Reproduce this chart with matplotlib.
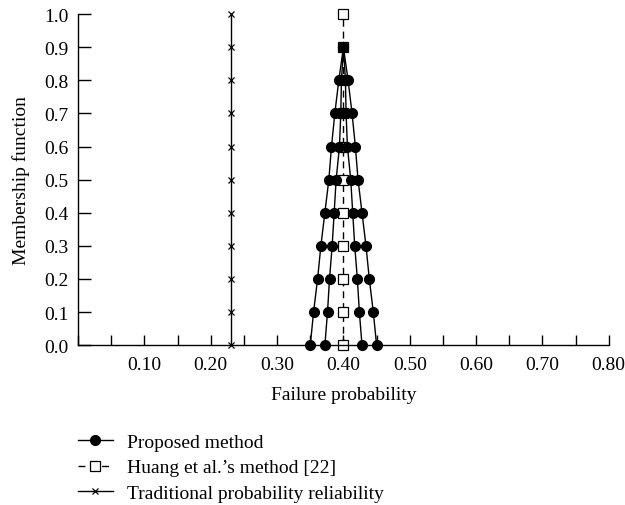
import matplotlib
matplotlib.use("Agg")
import matplotlib.pyplot as plt
from matplotlib.ticker import MultipleLocator

# -----------------------------
# Data
# -----------------------------
alpha_levels = [0.0, 0.1, 0.2, 0.3, 0.4, 0.5, 0.6, 0.7, 0.8, 0.9]

proposed_outer_left = [0.350, 0.355, 0.361, 0.366, 0.372, 0.378, 0.382, 0.387, 0.393, 0.400]
proposed_inner_left = [0.372, 0.376, 0.379, 0.383, 0.386, 0.389, 0.394, 0.396, 0.397, 0.400]
proposed_inner_right = [0.428, 0.424, 0.421, 0.417, 0.414, 0.411, 0.406, 0.404, 0.403, 0.400]
proposed_outer_right = [0.450, 0.445, 0.439, 0.434, 0.428, 0.422, 0.418, 0.413, 0.407, 0.400]

membership_levels = [0.0, 0.1, 0.2, 0.3, 0.4, 0.5, 0.6, 0.7, 0.8, 0.9, 1.0]
huang_value = [0.40] * 11
traditional_value = [0.23] * 11

x_tick_values = [0.10, 0.20, 0.30, 0.40, 0.50, 0.60, 0.70, 0.80]
y_tick_values = [0.0, 0.1, 0.2, 0.3, 0.4, 0.5, 0.6, 0.7, 0.8, 0.9, 1.0]

# -----------------------------
# Style
# -----------------------------
plt.rcParams["font.family"] = ["Liberation Serif", "DejaVu Serif"]
plt.rcParams["font.size"] = 14

fig = plt.figure(figsize=(6.25, 5.06), dpi=100)
ax = fig.add_axes([0.125, 0.316, 0.849, 0.654])

line_kw = dict(color="black", linewidth=1.0, clip_on=False)

# Huang et al.'s method
huang_line, = ax.plot(
    huang_value, membership_levels,
    linestyle=(0, (5, 3.5)), marker="s", markersize=7.5,
    markerfacecolor="white", markeredgecolor="black", markeredgewidth=0.9,
    label="Huang et al.\u2019s method [22]", **line_kw
)

# Traditional probability reliability
trad_line, = ax.plot(
    traditional_value, membership_levels,
    linestyle="-", marker="x", markersize=3.8, markeredgewidth=0.9,
    label="Traditional probability reliability", **line_kw
)

# Proposed method (four branches)
proposed_line = None
for branch in [proposed_outer_left, proposed_inner_left,
               proposed_inner_right, proposed_outer_right]:
    ln, = ax.plot(
        branch, alpha_levels,
        linestyle="-", marker="o", markersize=7,
        markerfacecolor="black", markeredgecolor="black",
        label="Proposed method", **line_kw
    )
    if proposed_line is None:
        proposed_line = ln

# -----------------------------
# Axes
# -----------------------------
ax.set_xlim(0.0, 0.80)
ax.set_ylim(0.0, 1.0)

ax.set_xticks(x_tick_values)
ax.set_xticklabels([f"{v:.2f}" for v in x_tick_values])
ax.xaxis.set_minor_locator(MultipleLocator(0.05))
ax.set_yticks(y_tick_values)
ax.set_yticklabels([f"{v:.1f}" for v in y_tick_values])

ax.tick_params(axis="both", which="both", direction="in", width=1.0)
ax.tick_params(axis="x", which="both", length=7, pad=8)
ax.tick_params(axis="y", which="major", length=9, pad=7)

for side in ["top", "right"]:
    ax.spines[side].set_visible(False)
for side in ["left", "bottom"]:
    ax.spines[side].set_linewidth(1.0)

ax.set_xlabel("Failure probability", labelpad=9)
ax.set_ylabel("Membership function", labelpad=10)

# -----------------------------
# Legend below the plot
# -----------------------------
fig.legend(
    handles=[proposed_line, huang_line, trad_line],
    labels=["Proposed method", "Huang et al.\u2019s method [22]",
            "Traditional probability reliability"],
    loc="upper left", bbox_to_anchor=(0.112, 0.157),
    frameon=False, handlelength=1.8, handletextpad=0.72,
    labelspacing=0.4, borderaxespad=0.0,
)

fig.savefig("out.png", dpi=100)
